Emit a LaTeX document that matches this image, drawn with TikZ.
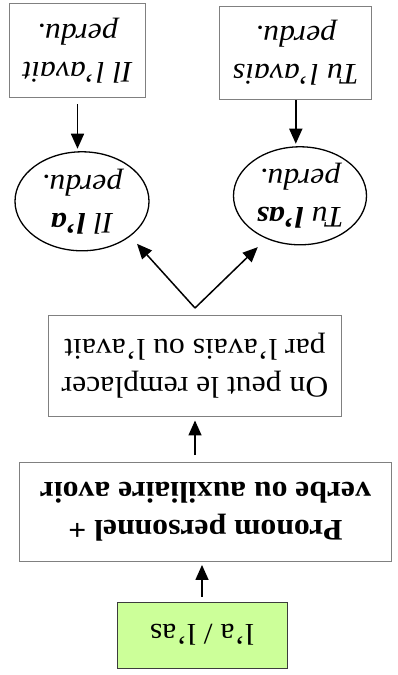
\documentclass[tikz,border=0pt]{standalone}
\usepackage{fontspec}
\setmainfont{Liberation Serif}[FakeStretch=1.06]
\usetikzlibrary{arrows.meta,shapes.geometric}
\definecolor{boxgray}{RGB}{128,128,128}
\definecolor{greenfill}{RGB}{204,255,153}
\definecolor{greenline}{RGB}{60,60,60}
\begin{document}
\begin{tikzpicture}[x=-1bp,y=1bp,rotate=180,transform shape,
  txt/.style={align=center,inner sep=0pt,font=\fontsize{30}{38}\selectfont},
  box/.style={txt,rectangle,draw=boxgray,line width=0.9bp},
  greenbox/.style={txt,rectangle,draw=greenline,fill=greenfill,line width=1bp},
  ell/.style={txt,ellipse,draw=black,line width=1.3bp,font=\fontsize{30}{38}\selectfont\itshape},
  arr/.style={-{Triangle[length=15bp,width=13bp]},line width=1.5bp}]
\useasboundingbox (0,0) rectangle (397,675);
\node[greenbox,minimum width=170bp,minimum height=66bp] (green) at (202,635) {l'a / l'as};
\node[box,font=\fontsize{30}{38}\selectfont\bfseries,minimum width=372bp,minimum height=99bp] (pronom) at (205.5,512) {Pronom personnel +\\verbe ou auxiliaire avoir};
\node[box,minimum width=293bp,minimum height=101bp] (onpeut) at (195,365.5) {On peut le remplacer\\par l'avais ou l'avait};
\node[ell,minimum width=134bp,minimum height=99bp] (ellIl) at (82,201.3) {Il \textbf{l'a}\\perdu.};
\node[ell,minimum width=133bp,minimum height=98bp] (ellTu) at (300,195.8) {Tu \textbf{l'as}\\perdu.};
\node[box,font=\fontsize{30}{38}\selectfont\itshape,minimum width=136bp,minimum height=94bp] (boxIl) at (77.5,50.5) {Il l'avait\\perdu.};
\node[box,font=\fontsize{30}{38}\selectfont\itshape,minimum width=152bp,minimum height=93bp] (boxTu) at (295.8,52.5) {Tu l'avais\\perdu.};
\coordinate (split) at (195,308);
\draw[arr,shorten <=5bp,shorten >=3bp] (green.south) -- (green.south |- pronom.north);
\draw[arr,shorten <=7bp,shorten >=4bp] (onpeut.north |- pronom.south) -- (onpeut.north);
\draw[arr,shorten >=10bp] (split) -- (ellIl.144.3);
\draw[arr,shorten >=12bp] (split) -- (ellTu.52.4);
\draw[arr,shorten <=6.3bp,shorten >=2.4bp] (boxIl.north) -- (boxIl.north |- ellIl.south);
\draw[arr,shorten <=1bp,shorten >=2.4bp] (boxTu.north) -- (boxTu.north |- ellTu.south);
\end{tikzpicture}
\end{document}
